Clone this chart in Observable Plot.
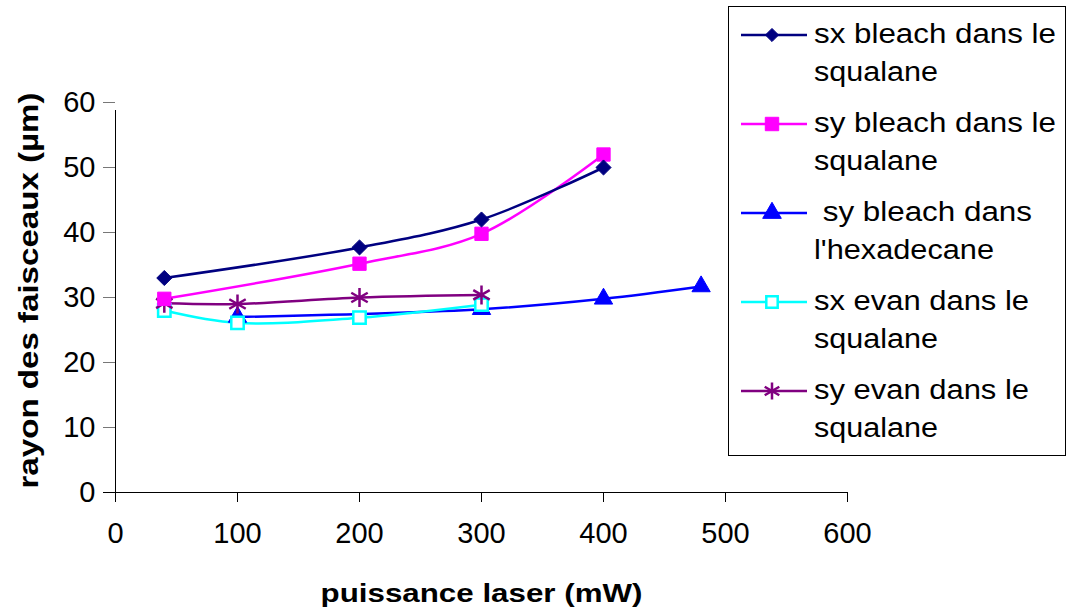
<!DOCTYPE html>
<html><head><meta charset="utf-8">
<script src="https://cdn.jsdelivr.net/npm/d3@7"></script>
<script src="https://cdn.jsdelivr.net/npm/@observablehq/plot@0.6"></script>
<style>
body{margin:0;background:#fff;font-family:"Liberation Sans",Arial,sans-serif;}
#wrap{position:relative;width:1066px;height:615px;overflow:hidden;}
#legend{position:absolute;left:728px;top:6px;width:338px;height:450px;border:1px solid #000;box-sizing:border-box;background:#fff;}
</style></head><body>
<div id="wrap"><div id="chart"></div><svg id="legend" width="338" height="450"></svg></div>
<script>
const seriesNames = ["sx bleach dans le squalane","sy bleach dans le squalane"," sy bleach dans l'hexadecane","sx evan dans le squalane","sy evan dans le squalane"];
const legendLines = [["sx bleach dans le","squalane"],["sy bleach dans le","squalane"],["\u00a0sy bleach dans","l'hexadecane"],["sx evan dans le","squalane"],["sy evan dans le","squalane"]];
const colors = ["#000080","#FF00FF","#0000FF","#00FFFF","#800080"];
const symbols = ["diamond2","square","triangle","square","asterisk"];
const fills = ["#000080","#FF00FF","#0000FF","white","none"];

const sxBleachSqX = [40,200,300,400];
const sxBleachSqY = [33,37.7,42,50];
const syBleachSqX = [40,200,300,400];
const syBleachSqY = [29.8,35.2,39.8,52];
const syBleachHexX = [100,300,400,480];
const syBleachHexY = [27,28.2,29.8,31.7];
const sxEvanSqX = [40,100,200,300];
const sxEvanSqY = [28,26.1,26.9,28.9];
const syEvanSqX = [40,100,200,300];
const syEvanSqY = [29.1,29,30,30.4];

const xTicks = [0,100,200,300,400,500,600];
const yTicks = [0,10,20,30,40,50,60];
const xLabel = "puissance laser (mW)";
const yLabel = "rayon des faisceaux (µm)";

const xs = [sxBleachSqX,syBleachSqX,syBleachHexX,sxEvanSqX,syEvanSqX];
const ys = [sxBleachSqY,syBleachSqY,syBleachHexY,sxEvanSqY,syEvanSqY];
const data = [];
xs.forEach((arr,i)=>arr.forEach((x,j)=>data.push({s:i,x,y:ys[i][j]})));
const order = [2,3,4,1,0];
const radii = [6.8,7.5,6.8,7,9];
const sw = [1,1,1,2.5,2.5];

const marks = [];
for (const i of order) {
  const d = data.filter(p=>p.s===i);
  marks.push(Plot.line(d,{x:"x",y:"y",stroke:colors[i],strokeWidth:2.5,curve:"catmull-rom"}));
}
for (const i of order) {
  const d = data.filter(p=>p.s===i);
  marks.push(Plot.dot(d,{x:"x",y:"y",symbol:()=>symbols[i],r:radii[i],stroke:colors[i],fill:fills[i],strokeWidth:sw[i]}));
}

const chart = Plot.plot({
  width:1066,height:615,
  marginLeft:115,marginRight:219,marginTop:102,marginBottom:123,
  style:{fontFamily:"'Liberation Sans',Arial,sans-serif",background:"white",overflow:"visible"},
  x:{domain:[0,600]},
  y:{domain:[0,60]},
  marks:[
    Plot.axisY({ticks:yTicks,tickSize:12,tickPadding:8,fontSize:29,stroke:"#777",label:null,color:"#000"}),
    Plot.axisX({ticks:xTicks,tickSize:10,tickPadding:20,fontSize:29,label:null,stroke:"#000"}),
    Plot.ruleX([0],{y1:0,y2:60,stroke:"#000",strokeWidth:1,insetBottom:-8}),
    Plot.ruleY([0],{x1:0,x2:600,stroke:"#000",strokeWidth:1,insetLeft:-12}),
    ...marks,
    Plot.text([yLabel],{frameAnchor:"bottom-left",textAnchor:"start",dx:-78,dy:-4,rotate:-90,fontSize:27,fontWeight:"bold",fill:"#000"}),
    Plot.text([xLabel],{frameAnchor:"bottom",dy:109,fontSize:26,fontWeight:"bold",fill:"#000"})
  ]
});
document.getElementById("chart").appendChild(chart);
d3.select(chart).selectAll("text").each(function(){
  const t = this.textContent;
  if (t===xLabel) { this.setAttribute("textLength",322); this.setAttribute("lengthAdjust","spacingAndGlyphs"); }
  if (t===yLabel) { this.setAttribute("textLength",396); this.setAttribute("lengthAdjust","spacingAndGlyphs"); }
});

const leg = d3.select("#legend");
const symGen = {diamond2:d3.symbolDiamond2,square:d3.symbolSquare,triangle:d3.symbolTriangle,asterisk:d3.symbolAsterisk};
const legSize = [110,180,150,130,200];
const lineLen = [[242,124],[242,124],[218,180],[215,124],[215,124]];
legendLines.forEach((ln,i)=>{
  const y0 = 28 + i*89;
  const g = leg.append("g");
  g.append("line").attr("x1",12).attr("x2",78).attr("y1",y0).attr("y2",y0).attr("stroke",colors[i]).attr("stroke-width",2.5);
  g.append("path").attr("transform",`translate(43,${y0})`).attr("d",d3.symbol(symGen[symbols[i]],legSize[i])()).attr("fill",fills[i]).attr("stroke",colors[i]).attr("stroke-width",sw[i]);
  ln.forEach((s,k)=>{
    g.append("text").attr("x",85).attr("y",y0+8+k*38).attr("font-size",27).attr("fill","#000")
      .attr("font-family","'Liberation Sans',Arial,sans-serif")
      .attr("textLength",lineLen[i][k]).attr("lengthAdjust","spacingAndGlyphs").text(s);
  });
});
</script></body></html>
